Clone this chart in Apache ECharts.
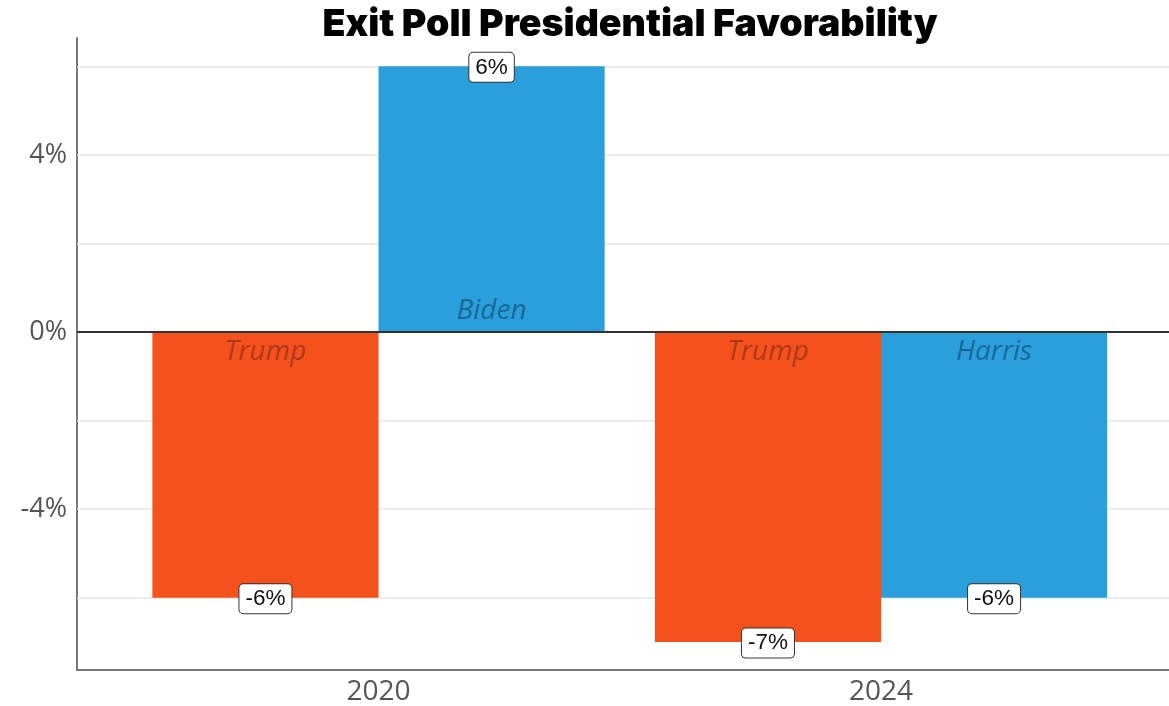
<!DOCTYPE html>
<html>
<head>
<meta charset="utf-8">
<title>Exit Poll Presidential Favorability</title>
<script src="https://cdn.jsdelivr.net/npm/echarts@6/dist/echarts.min.js"></script>
<style>
  html, body { margin: 0; padding: 0; background: #fff; }
  #chart { width: 1169px; height: 706px; }
</style>
</head>
<body>
<div id="chart"></div>
<script>
// Exit poll net favorability by election year
const years = ['2020', '2024'];
const candidates = ['Trump', 'Biden', 'Trump', 'Harris'];
const parties = ['R', 'D', 'R', 'D'];
const yearOfBar = [0, 0, 1, 1];
const slotOfBar = [0, 1, 0, 1];          // dodge slot within each year
const values = [-6, 6, -7, -6];           // net favorability, %
const yTickLabels = [-4, 0, 4];
const gridLevels = [-6, -4, -2, 2, 4, 6];

const partyColor = { R: '#F5511D', D: '#2A9FDB' };
const partyTextColor = { R: 'rgba(150,50,25,0.75)', D: 'rgba(20,85,125,0.75)' };

const dodge = 0.45;   // width of each bar in x units
const barX = (i) => yearOfBar[i] + 1 + (slotOfBar[i] === 0 ? -dodge / 2 : dodge / 2);

const gridLeft = 77, gridTop = 38, gridBottom = 36, gridRight = 0;
const pxPerUnit = 502.5;
const plotWidth = 1169 - gridLeft - gridRight;
const xMin = 0.4, xMax = xMin + plotWidth / pxPerUnit;   // right side runs past the frame
const barPx = pxPerUnit * dodge;

const chart = echarts.init(document.getElementById('chart'), null, { renderer: 'canvas' });

const barData = values.map((v, i) => ({
  value: [barX(i), v],
  itemStyle: { color: partyColor[parties[i]] },
  label: {
    show: true,
    formatter: candidates[i],
    position: v >= 0 ? 'insideBottom' : 'insideTop',
    distance: v >= 0 ? 7 : 6,
    color: partyTextColor[parties[i]],
    fontStyle: 'italic',
    fontSize: 28,
    fontFamily: 'Open Sans'
  }
}));

// boxed value labels sit on the end of each bar
const valueLabelPoints = values.map((v, i) => ({
  coord: [barX(i), v],
  value: v
}));

chart.setOption({
  animation: false,
  graphic: [{
    type: 'text',
    x: 630,
    y: 25,
    style: {
      text: 'Exit Poll Presidential Favorability',
      textAlign: 'center',
      textVerticalAlign: 'middle',
      fontFamily: 'Inter',
      fontWeight: 900,
      fontSize: 37.5,
      fill: '#000'
    }
  }],
  grid: { left: gridLeft, right: gridRight, top: gridTop, bottom: gridBottom, containLabel: false },
  xAxis: {
    type: 'value',
    min: xMin,
    max: xMax,
    axisLine: { show: true, onZero: false, lineStyle: { color: '#777', width: 2 } },
    axisTick: { show: false },
    splitLine: { show: false },
    axisLabel: {
      customValues: [1, 2],
      formatter: (v) => years[Math.round(v) - 1],
      color: '#555',
      fontSize: 28,
      fontFamily: 'Open Sans',
      margin: 8
    }
  },
  yAxis: {
    type: 'value',
    min: -7.63,
    max: 6.64,
    axisLine: { show: true, onZero: false, lineStyle: { color: '#777', width: 2 } },
    axisTick: { show: false },
    splitLine: { show: false },
    axisLabel: {
      customValues: yTickLabels,
      formatter: (v) => v + '%',
      color: '#555',
      fontSize: 27,
      fontFamily: 'Open Sans',
      margin: 10
    }
  },
  series: [
    {
      // background grid lines
      type: 'line',
      data: [],
      silent: true,
      z: 1,
      markLine: {
        silent: true,
        z: 1,
        symbol: ['none', 'none'],
        label: { show: false },
        lineStyle: { color: '#e6e6e6', width: 1.5, type: 'solid' },
        data: gridLevels.map((y) => ({ yAxis: y }))
      }
    },
    {
      type: 'bar',
      data: barData,
      barWidth: barPx,
      z: 3,
      markLine: {
        silent: true,
        symbol: ['none', 'none'],
        label: { show: false },
        lineStyle: { color: '#333', width: 2, type: 'solid' },
        data: [{ yAxis: 0 }],
        z: 5
      },
      markPoint: {
        silent: true,
        z: 6,
        symbol: 'rect',
        symbolSize: 0,
        itemStyle: { color: '#fff' },
        label: {
          show: true,
          position: 'inside',
          offset: [0, 1],
          formatter: (p) => p.value + '%',
          color: '#111',
          fontSize: 22.5,
          fontFamily: 'Liberation Sans',
          backgroundColor: '#fff',
          borderColor: '#333',
          borderWidth: 1,
          borderRadius: 4,
          padding: [4, 6, 2, 6]
        },
        data: valueLabelPoints
      }
    }
  ]
});
</script>
</body>
</html>
